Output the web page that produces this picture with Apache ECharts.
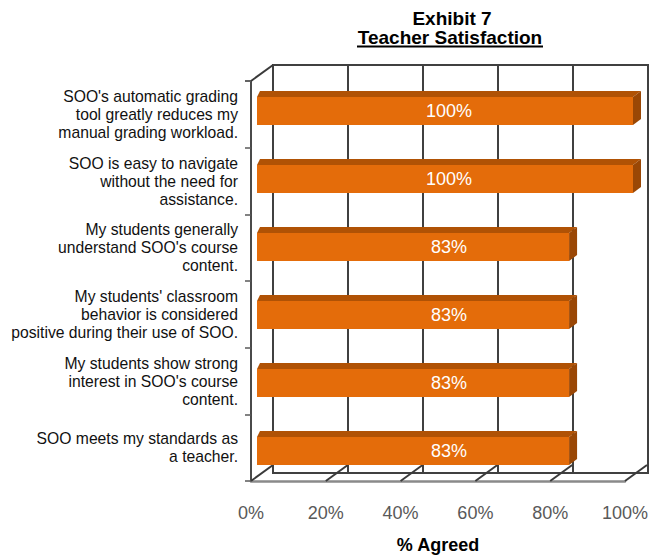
<!DOCTYPE html>
<html>
<head>
<meta charset="utf-8">
<script src="https://cdn.jsdelivr.net/npm/echarts@6/dist/echarts.min.js"></script>
<style>
html,body{margin:0;padding:0;background:#fff;}
#chart{width:651px;height:559px;}
</style>
</head>
<body>
<div id="chart"></div>
<script>
// ---- data ----
const categories = [
  "SOO's automatic grading\ntool greatly reduces my\nmanual grading workload.",
  "SOO is easy to navigate\nwithout the need for\nassistance.",
  "My students generally\nunderstand SOO's course\ncontent.",
  "My students' classroom\nbehavior is considered\npositive during their use of SOO.",
  "My students show strong\ninterest in SOO's course\ncontent.",
  "SOO meets my standards as\na teacher."
];
const values = [100, 100, 83, 83, 83, 83];
const xTicks = [0, 20, 40, 60, 80, 100];
const titleLine1 = "Exhibit 7";
const titleLine2 = "Teacher Satisfaction";
const xAxisName = "% Agreed";

// ---- styling ----
const FONT = "'Liberation Sans', Arial, sans-serif";
const DEPTH_DX = 8, DEPTH_DY = -6;   // bar depth
const FLOOR_DX = 22, FLOOR_DY = -16; // wall depth
const BAR_H = 28;
const C_FRONT = '#E46C0A', C_TOP = '#B05205', C_SIDE = '#9A4705';

const chart = echarts.init(document.getElementById('chart'), null, {renderer: 'svg'});

const option = {
  backgroundColor: '#ffffff',
  animation: false,
  graphic: [
    {type: 'text', x: 452, y: 18, style: {text: titleLine1, font: 'bold 19px ' + FONT, fill: '#000', textAlign: 'center', textVerticalAlign: 'middle'}},
    {type: 'text', x: 450, y: 37, style: {text: titleLine2, font: 'bold 19px ' + FONT, fill: '#000', textAlign: 'center', textVerticalAlign: 'middle'}},
    {type: 'line', shape: {x1: 357, y1: 46.5, x2: 543, y2: 46.5}, style: {stroke: '#000', lineWidth: 2}}
  ],
  grid: [
    // back wall
    {left: 273, top: 65, width: 375, height: 408, show: true, borderColor: '#404040', borderWidth: 2, backgroundColor: 'transparent'},
    // front (axes, labels)
    {left: 251, top: 81, width: 374, height: 408},
    // bar plane
    {left: 257, top: 77, width: 376, height: 408}
  ],
  xAxis: [
    {gridIndex: 0, type: 'value', min: 0, max: 100, interval: 20,
      axisLine: {show: false}, axisTick: {show: false}, axisLabel: {show: false},
      splitLine: {show: true, lineStyle: {color: '#404040', width: 2}}},
    {gridIndex: 1, type: 'value', min: 0, max: 100, interval: 20,
      axisLine: {show: true, lineStyle: {color: '#8a8a8a', width: 2.5}},
      axisTick: {show: false}, splitLine: {show: false},
      axisLabel: {margin: 23, color: '#595959', fontSize: 18, fontFamily: FONT, formatter: v => v + '%'},
      name: xAxisName, nameLocation: 'middle', nameGap: 55,
      nameTextStyle: {fontWeight: 'bold', fontSize: 18, fontFamily: FONT, color: '#000', verticalAlign: 'top'}},
    {gridIndex: 2, type: 'value', min: 0, max: 100, interval: 20, show: false}
  ],
  yAxis: [
    {gridIndex: 0, type: 'category', data: categories, inverse: true, show: false},
    {gridIndex: 1, type: 'category', data: categories, inverse: true,
      axisLine: {show: true, lineStyle: {color: '#4a4a4a', width: 2}},
      axisTick: {show: true, length: 6, lineStyle: {color: '#595959', width: 1.5}},
      splitLine: {show: false},
      axisLabel: {margin: 13, color: '#111111', fontSize: 15.7, lineHeight: 18, fontFamily: FONT, align: 'right'}},
    {gridIndex: 2, type: 'category', data: categories, inverse: true, show: false}
  ],
  series: [
    // floor / left-wall depth lines
    {
      type: 'custom', xAxisIndex: 1, yAxisIndex: 1, z: 1, silent: true,
      data: xTicks.map(v => [v, 0]),
      renderItem: function (params, api) {
        const cs = params.coordSys;
        const x = api.coord([api.value(0), 0])[0];
        const yb = cs.y + cs.height;
        const children = [{
          type: 'line',
          shape: {x1: x, y1: yb, x2: x + FLOOR_DX, y2: yb + FLOOR_DY},
          style: {stroke: '#3a3a3a', lineWidth: 2}
        }];
        if (params.dataIndex === 0) {
          children.push({
            type: 'line',
            shape: {x1: x, y1: cs.y, x2: x + FLOOR_DX, y2: cs.y + FLOOR_DY},
            style: {stroke: '#3a3a3a', lineWidth: 2}
          });
          children.push({
            type: 'line',
            shape: {x1: x - 6, y1: cs.y, x2: x, y2: cs.y},
            style: {stroke: '#595959', lineWidth: 1.5}
          });
        }
        return {type: 'group', children: children};
      }
    },
    // bar front faces
    {
      type: 'bar', xAxisIndex: 2, yAxisIndex: 2, z: 3,
      data: values, barWidth: BAR_H,
      itemStyle: {color: C_FRONT},
      label: {show: true, position: [192, '50%'], align: 'center', verticalAlign: 'middle',
        color: '#ffffff', fontSize: 18, fontFamily: FONT, formatter: p => p.value + '%'}
    },
    // bar top and side faces
    {
      type: 'custom', xAxisIndex: 2, yAxisIndex: 2, z: 2, silent: true,
      data: values.map((v, i) => [v, i]),
      renderItem: function (params, api) {
        const c = api.value(1);
        const s = api.coord([0, c]);
        const e = api.coord([api.value(0), c]);
        const y0 = e[1] - BAR_H / 2;
        return {type: 'group', children: [
          {type: 'polygon', shape: {points: [[s[0], y0], [e[0], y0], [e[0] + DEPTH_DX, y0 + DEPTH_DY], [s[0] + 3, y0 + DEPTH_DY]]},
            style: {fill: C_TOP}},
          {type: 'polygon', shape: {points: [[e[0], y0], [e[0] + DEPTH_DX, y0 + DEPTH_DY], [e[0] + DEPTH_DX, y0 + BAR_H + DEPTH_DY], [e[0], y0 + BAR_H]]},
            style: {fill: C_SIDE}}
        ]};
      }
    }
  ]
};
chart.setOption(option);
</script>
</body>
</html>
